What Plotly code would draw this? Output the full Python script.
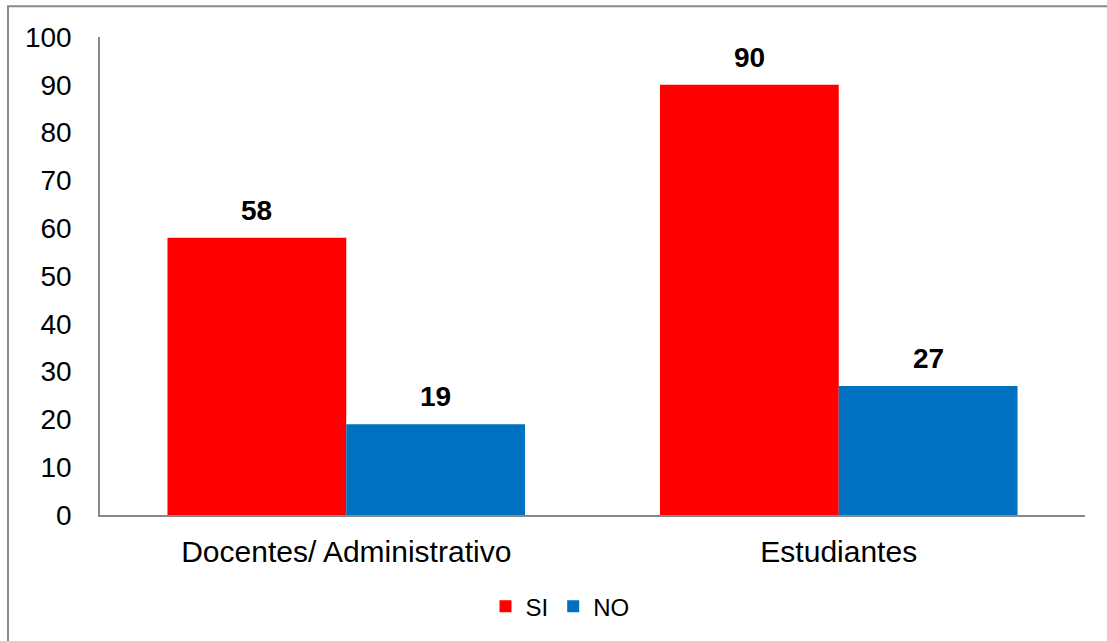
import plotly.graph_objects as go

categories = ["Docentes/ Administrativo", "Estudiantes"]
si_values = [58, 90]
no_values = [19, 27]
series_names = ["SI", "NO"]
y_ticks = [0, 10, 20, 30, 40, 50, 60, 70, 80, 90, 100]

W, H = 1107, 641
L, R, T, B = 100, 22, 37, 124
pw, ph = W - L - R, H - T - B

font = "Liberation Sans, Arial, sans-serif"
red = "#FF0000"
blue = "#0070C0"

fig = go.Figure()
fig.add_trace(go.Bar(name=series_names[0], x=categories, y=si_values,
                     marker=dict(color=red, line=dict(width=0))))
fig.add_trace(go.Bar(name=series_names[1], x=categories, y=no_values,
                     marker=dict(color=blue, line=dict(width=0))))

# value labels above bars
bargap = 0.274
bar_px = pw / len(categories) * (1 - bargap) / 2
annotations = []
for vals, shift in ((si_values, -bar_px / 2), (no_values, bar_px / 2)):
    for c, v in zip(categories, vals):
        annotations.append(dict(x=c, y=v, xref="x", yref="y", text=f"<b>{v}</b>",
                                showarrow=False, xshift=shift, yanchor="bottom",
                                yshift=10, font=dict(size=28, color="#000", family=font)))

# outer frame
px2x = lambda px: (px - L) / pw
px2y = lambda py: (H - B - py) / ph
shapes = [dict(type="path", xref="paper", yref="paper",
               path=f"M {px2x(1120)},{px2y(6)} L {px2x(8)},{px2y(6)} L {px2x(8)},{px2y(660)}",
               line=dict(color="#898989", width=2))]

fig.update_layout(
    width=W, height=H,
    margin=dict(l=L, r=R, t=T, b=B),
    paper_bgcolor="white", plot_bgcolor="white",
    barmode="group", bargap=bargap, bargroupgap=0,
    font=dict(family=font, size=28, color="#000"),
    showlegend=True,
    legend=dict(orientation="h", x=px2x(560), xanchor="center", y=px2y(609), yanchor="middle",
                font=dict(size=24, color="#000"), itemwidth=30, traceorder="normal"),
    annotations=annotations,
    shapes=shapes,
    xaxis=dict(showline=True, linecolor="#898989", linewidth=2, showgrid=False,
               ticks="", tickfont=dict(size=30), ticklabelstandoff=9),
    yaxis=dict(range=[0, 100], tickvals=y_ticks, showline=True, linecolor="#898989",
               linewidth=1.5, showgrid=False, zeroline=False, ticks="",
               tickfont=dict(size=28), ticklabelstandoff=21),
)

fig.write_html("out.html")
